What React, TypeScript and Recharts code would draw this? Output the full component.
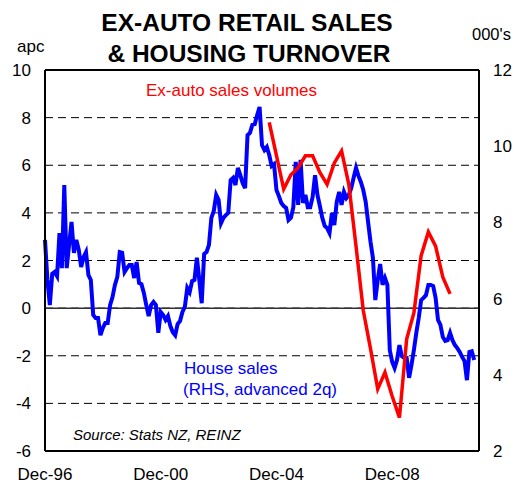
import React from "react";
import { LineChart, Line, XAxis, YAxis, CartesianGrid, ReferenceLine } from "recharts";

// Monthly index 0 = Dec-96
const houseSales: number[] = [
  7.54, 6.49, 5.83, 6.65, 6.70, 6.59, 7.72, 6.80, 8.98, 6.80, 7.41, 8.01, 7.20, 7.54, 7.28, 6.83,
  7.09, 7.22, 6.62, 6.49, 5.57, 5.49, 5.49, 5.04, 5.23, 5.36, 5.36, 5.83, 6.04, 6.36, 6.57, 7.22,
  7.20, 6.70, 6.80, 6.88, 6.88, 6.54, 6.96, 6.41, 6.38, 6.15, 5.83, 5.54, 5.83, 5.91, 5.83, 5.10,
  5.65, 5.57, 5.44, 5.54, 5.28, 5.12, 5.04, 5.33, 5.41, 5.65, 5.78, 6.28, 6.17, 6.46, 6.49, 7.07,
  6.49, 5.88, 7.17, 7.22, 7.41, 8.12, 8.30, 8.72, 8.59, 7.98, 8.12, 8.19, 8.25, 9.11, 9.17, 8.98,
  9.43, 9.24, 9.03, 8.90, 10.29, 10.35, 10.56, 10.58, 10.82, 11.03, 10.03, 9.90, 9.98, 9.77, 9.48, 9.53,
  8.85, 8.69, 8.51, 8.43, 8.38, 8.06, 8.12, 8.40, 9.59, 8.46, 9.64, 8.51, 8.72, 8.40, 8.40, 8.67,
  9.24, 8.72, 8.43, 8.12, 7.91, 7.85, 7.72, 8.25, 7.93, 8.54, 8.80, 8.46, 8.80, 8.64, 8.72, 8.90,
  9.17, 9.43, 9.22, 9.06, 8.85, 8.54, 8.01, 7.49, 7.07, 5.96, 6.49, 6.91, 6.36, 6.54, 6.36, 4.65,
  4.34, 4.18, 4.39, 4.78, 4.49, 4.44, 4.44, 3.92, 4.26, 4.65, 5.10, 5.49, 5.96, 6.02, 6.09, 6.36,
  6.36, 6.33, 6.02, 5.44, 5.31, 4.99, 4.89, 4.91, 5.10, 4.91, 4.78, 4.70, 4.60, 4.47, 4.36, 3.86,
  4.60, 4.62, 4.39,
];

// Quarterly, starting Sep-04 (month index 93), every 3 months
const exAutoStart = 93;
const exAutoSales: number[] = [
  7.8, 6.4, 5.0, 5.6, 5.9, 6.4, 6.4, 5.7, 5.2, 6.1, 6.6, 5.2, 2.6, -0.1, -1.7, -3.4, -2.7, -3.7,
  -4.6, -1.3, -0.2, 2.2, 3.2, 2.6, 1.3, 0.6,
];

const xTickIdx = [0, 48, 96, 144];
const xTickLabels = ["Dec-96", "Dec-00", "Dec-04", "Dec-08"];
const leftTicks = [-6, -4, -2, 0, 2, 4, 6, 8, 10];
const rightTicks = [2, 4, 6, 8, 10, 12];

const data = houseSales.map((v, i) => {
  const q = i - exAutoStart;
  const red = q >= 0 && q % 3 === 0 && q / 3 < exAutoSales.length ? exAutoSales[q / 3] : undefined;
  return { i, house: v, exauto: red };
});

const FONT = '"Liberation Sans", Arial, sans-serif';

export default function App() {
  return (
    <div style={{ position: "absolute", left: 0, top: 0, width: 522, height: 484, background: "#fff" }}>
      <LineChart
        width={522}
        height={484}
        data={data}
        margin={{ top: 70, right: 0, bottom: 0, left: 0 }}
      >
        <CartesianGrid
          yAxisId="left"
          vertical={false}
          horizontal={true}
          stroke="#000"
          strokeDasharray="8 5"
          strokeWidth={1}
        />
        <XAxis
          dataKey="i"
          type="number"
          domain={[0, 180]}
          ticks={xTickIdx}
          tickFormatter={(v: number) => xTickLabels[xTickIdx.indexOf(v)] ?? ""}
          tickLine={false}
          tickSize={0}
          tickMargin={17}
          height={33}
          axisLine={{ stroke: "#000", strokeWidth: 2 }}
          tick={{ fill: "#000", fontSize: 17, fontFamily: FONT }}
          interval={0}
        />
        <YAxis
          yAxisId="left"
          orientation="left"
          domain={[-6, 10]}
          ticks={leftTicks}
          width={45}
          tickLine={false}
          tickSize={0}
          tickMargin={14}
          axisLine={{ stroke: "#000", strokeWidth: 2 }}
          tick={{ fill: "#000", fontSize: 17, fontFamily: FONT }}
          interval={0}
        />
        <YAxis
          yAxisId="right"
          orientation="right"
          domain={[2, 12]}
          ticks={rightTicks}
          width={43}
          tickLine={false}
          tickSize={0}
          tickMargin={14}
          axisLine={{ stroke: "#000", strokeWidth: 2 }}
          tick={{ fill: "#000", fontSize: 17, fontFamily: FONT }}
          interval={0}
        />
        <ReferenceLine yAxisId="left" y={0} stroke="#333" strokeWidth={1.5} />
        <ReferenceLine yAxisId="left" y={10} stroke="#000" strokeWidth={2} />
        <Line
          yAxisId="right"
          type="linear"
          dataKey="house"
          stroke="#0000FF"
          strokeWidth={4}
          dot={false}
          isAnimationActive={false}
        />
        <Line
          yAxisId="left"
          type="linear"
          dataKey="exauto"
          stroke="#FF0000"
          strokeWidth={3.5}
          dot={false}
          connectNulls={true}
          isAnimationActive={false}
        />
      </LineChart>
      <svg
        width={522}
        height={484}
        style={{ position: "absolute", left: 0, top: 0, pointerEvents: "none" }}
      >
        <text x={247} y={31} textAnchor="middle" fontFamily={FONT} fontWeight="bold" fontSize={24.5} fill="#000">
          EX-AUTO RETAIL SALES
        </text>
        <text x={249} y={62} textAnchor="middle" fontFamily={FONT} fontWeight="bold" fontSize={24.5} fill="#000">
          &amp; HOUSING TURNOVER
        </text>
        <text x={17} y={52} fontFamily={FONT} fontSize={17} fill="#000">apc</text>
        <text x={472} y={40} fontFamily={FONT} fontSize={16.5} fill="#000">000's</text>
        <text x={146} y={96} fontFamily={FONT} fontSize={17} fill="#FF0000">Ex-auto sales volumes</text>
        <text x={184} y={374} fontFamily={FONT} fontSize={17} fill="#0000FF">House sales</text>
        <text x={183} y={395} fontFamily={FONT} fontSize={17} fill="#0000FF">(RHS, advanced 2q)</text>
        <text x={73} y={440} fontFamily={FONT} fontSize={15} fontStyle="italic" fill="#000">Source: Stats NZ, REINZ</text>
      </svg>
    </div>
  );
}
